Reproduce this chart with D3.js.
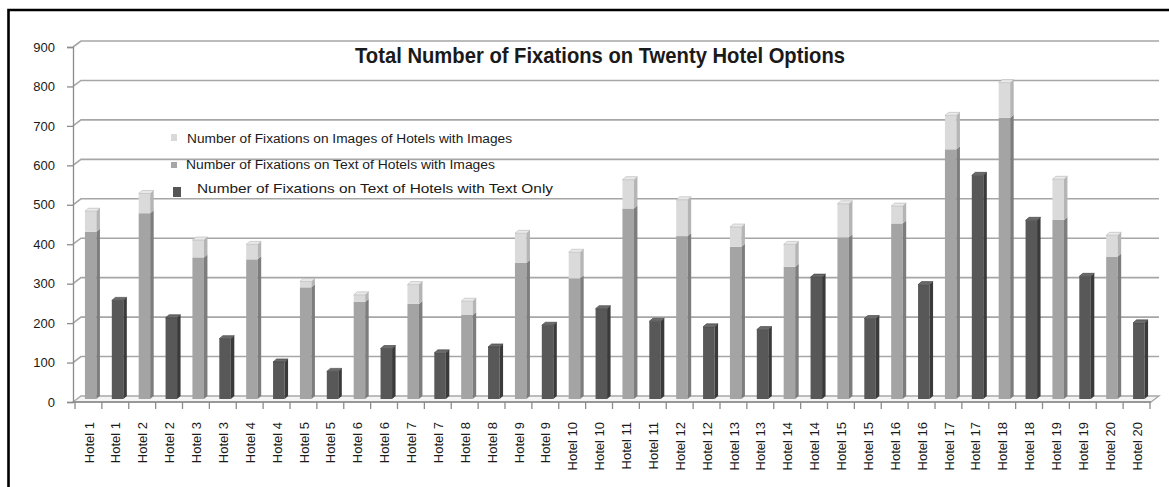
<!DOCTYPE html>
<html>
<head>
<meta charset="utf-8">
<script src="https://cdn.jsdelivr.net/npm/d3@7"></script>
<style>
  body { margin: 0; background: #fff; }
  svg text { font-family: "Liberation Sans", Arial, sans-serif; fill: #1a1a1a; }
</style>
</head>
<body>
<svg id="chart" width="1169" height="487"></svg>
<script>
//// data
var hotelNames = d3.range(1, 21).map(function(i) { return "Hotel " + i; });
var textOnImageHotels = [424, 471, 359, 354, 283, 246, 241, 213, 345, 306, 483, 413, 386, 335, 410, 445, 633, 713, 454, 361];
var imagesOnImageHotels = [52, 50, 44, 38, 15, 18, 49, 35, 75, 66, 73, 92, 50, 57, 85, 44, 86, 89, 103, 54];
var textOnlyHotels = [250, 206, 153, 94, 70, 128, 117, 132, 187, 229, 197, 183, 176, 309, 204, 290, 567, 453, 311, 193];
var yTicks = [0, 100, 200, 300, 400, 500, 600, 700, 800, 900];
var legendLabels = ["Number of Fixations on Images of Hotels with Images",
                    "Number of Fixations on Text of Hotels with Images",
                    "Number of Fixations on Text of Hotels with Text Only"];
var chartTitle = "Total Number of Fixations on Twenty Hotel Options";

// every hotel appears twice: first the image version, then the text-only one
var categories = [];
hotelNames.forEach(function(name, i) {
    categories.push({"label": name, "kind": "image", "text": textOnImageHotels[i], "img": imagesOnImageHotels[i]});
    categories.push({"label": name, "kind": "text", "text": textOnlyHotels[i], "img": 0});
});

var svg = d3.select("svg#chart");

// depth of the fake 3d
var wallDx = 8, wallDy = -6,
    barDx = 3.5, barDy = -3,
    barW = 11.5;

var x = d3.scaleBand()
          .domain(d3.range(categories.length))
          .range([75, 1150])
          .padding(0);

var y = d3.scaleLinear()
          .domain([0, 900])
          .range([402, 47]);

var axisX = 73, floorRight = 1151;

// frame
svg.append("path")
   .attr("d", "M8.5,487 L8.5,10 L1169,10")
   .attr("fill", "none")
   .attr("stroke", "#000")
   .attr("stroke-width", 2.6);

// floor
svg.append("path")
   .attr("d", "M" + axisX + "," + y(0) + " L" + (axisX + wallDx) + "," + (y(0) + wallDy) +
              " L" + (floorRight + wallDx) + "," + (y(0) + wallDy) + " L" + floorRight + "," + y(0) + " Z")
   .attr("fill", "#f4f4f4")
   .attr("stroke", "#a8a8a8")
   .attr("stroke-width", 1.3);

// back wall gridlines with their slanted bit on the side wall
var grid = svg.append("g").attr("class", "grid");
grid.selectAll("path")
    .data(yTicks.slice(1))
    .enter().append("path")
    .attr("d", function(d) {
        return "M" + axisX + "," + y(d) + " L" + (axisX + wallDx) + "," + (y(d) + wallDy) +
               " L" + (floorRight + wallDx) + "," + (y(d) + wallDy);
    })
    .attr("fill", "none")
    .attr("stroke", "#a6a6a6")
    .attr("stroke-width", 1.6);

// y axis
var yAxis = svg.append("g")
   .attr("transform", "translate(" + axisX + ",0)")
   .call(d3.axisLeft(y).tickValues(yTicks).tickSize(6).tickPadding(12));
yAxis.select(".domain").attr("stroke", "#8c8c8c").attr("stroke-width", 1.3);
yAxis.selectAll(".tick line").attr("stroke", "#8c8c8c").attr("stroke-width", 1.3);
yAxis.selectAll(".tick text")
     .style("font-size", "13px")
     .style("font-family", "'Liberation Sans', Arial, sans-serif")
     .attr("fill", "#1a1a1a");

// x axis line + ticks on the category boundaries
svg.append("line")
   .attr("x1", axisX).attr("x2", floorRight)
   .attr("y1", y(0)).attr("y2", y(0))
   .attr("stroke", "#8c8c8c").attr("stroke-width", 1.3);

svg.selectAll("line.xtick")
   .data(d3.range(categories.length + 1))
   .enter().append("line")
   .attr("class", "xtick")
   .attr("x1", function(d) { return 75 + d * x.bandwidth(); })
   .attr("x2", function(d) { return 75 + d * x.bandwidth(); })
   .attr("y1", y(0))
   .attr("y2", y(0) + 7)
   .attr("stroke", "#8c8c8c")
   .attr("stroke-width", 1.3);

svg.selectAll("text.xlab")
   .data(categories)
   .enter().append("text")
   .attr("class", "xlab")
   .attr("transform", function(d, i) {
       return "translate(" + (x(i) + x.bandwidth() / 2 + 0.5) + ",422) rotate(-90)";
   })
   .attr("dy", "0.35em")
   .attr("text-anchor", "end")
   .style("font-size", "13px")
   .text(function(d) { return d.label; });

// a 3d box: front face, side face, optional top
function box(g, x0, v0, v1, front, side, top) {
    var yb = y(v0) + barDy, yt = y(v1) + barDy;
    g.append("rect")
     .attr("x", x0).attr("y", yt)
     .attr("width", barW).attr("height", yb - yt)
     .attr("fill", front);
    g.append("path")
     .attr("d", "M" + (x0 + barW) + "," + yb + " L" + (x0 + barW) + "," + yt +
                " L" + (x0 + barW + barDx) + "," + (yt + barDy) +
                " L" + (x0 + barW + barDx) + "," + (yb + barDy) + " Z")
     .attr("fill", side);
    if (top) {
        g.append("path")
         .attr("d", "M" + x0 + "," + yt + " L" + (x0 + barDx) + "," + (yt + barDy) +
                    " L" + (x0 + barW + barDx) + "," + (yt + barDy) + " L" + (x0 + barW) + "," + yt + " Z")
         .attr("fill", top)
         .attr("stroke", side)
         .attr("stroke-width", 0.6);
    }
}

var bars = svg.append("g").attr("class", "bars");
categories.forEach(function(d, i) {
    var g = bars.append("g");
    var x0 = x(i) + x.bandwidth() / 2 - 3.5;
    if (d.kind == "image") {
        box(g, x0, 0, d.text, "#a4a4a4", "#7d7d7d", null);
        box(g, x0, d.text, d.text + d.img, "#dadada", "#b5b5b5", "#e9e9e9");
    } else {
        box(g, x0, 0, d.text, "#585858", "#3a3a3a", "#6b6b6b");
    }
});

// title
svg.append("text")
   .attr("x", 355)
   .attr("y", 63)
   .attr("textLength", 490)
   .attr("lengthAdjust", "spacingAndGlyphs")
   .style("font-size", "22px")
   .style("font-weight", "bold")
   .attr("fill", "#000")
   .text(chartTitle);

// legend
var legendRows = [
    {"label": legendLabels[0], "color": "#d9d9d9", "mx": 171, "my": 134, "mw": 6, "mh": 7, "tx": 187, "ty": 138.5, "tw": 325, "fs": 12},
    {"label": legendLabels[1], "color": "#a6a6a6", "mx": 171, "my": 162, "mw": 6, "mh": 6, "tx": 186, "ty": 165, "tw": 309, "fs": 12},
    {"label": legendLabels[2], "color": "#555555", "mx": 173, "my": 187, "mw": 8, "mh": 10, "tx": 197, "ty": 188.5, "tw": 356, "fs": 13}
];
var legend = svg.append("g").attr("class", "legend");
legend.selectAll("rect")
      .data(legendRows)
      .enter().append("rect")
      .attr("x", function(d) { return d.mx; })
      .attr("y", function(d) { return d.my; })
      .attr("width", function(d) { return d.mw; })
      .attr("height", function(d) { return d.mh; })
      .attr("fill", function(d) { return d.color; });
legend.selectAll("text")
      .data(legendRows)
      .enter().append("text")
      .attr("x", function(d) { return d.tx; })
      .attr("y", function(d) { return d.ty; })
      .attr("dy", "0.35em")
      .attr("textLength", function(d) { return d.tw; })
      .attr("lengthAdjust", "spacingAndGlyphs")
      .style("font-size", function(d) { return d.fs + "px"; })
      .text(function(d) { return d.label; });
</script>
</body>
</html>
